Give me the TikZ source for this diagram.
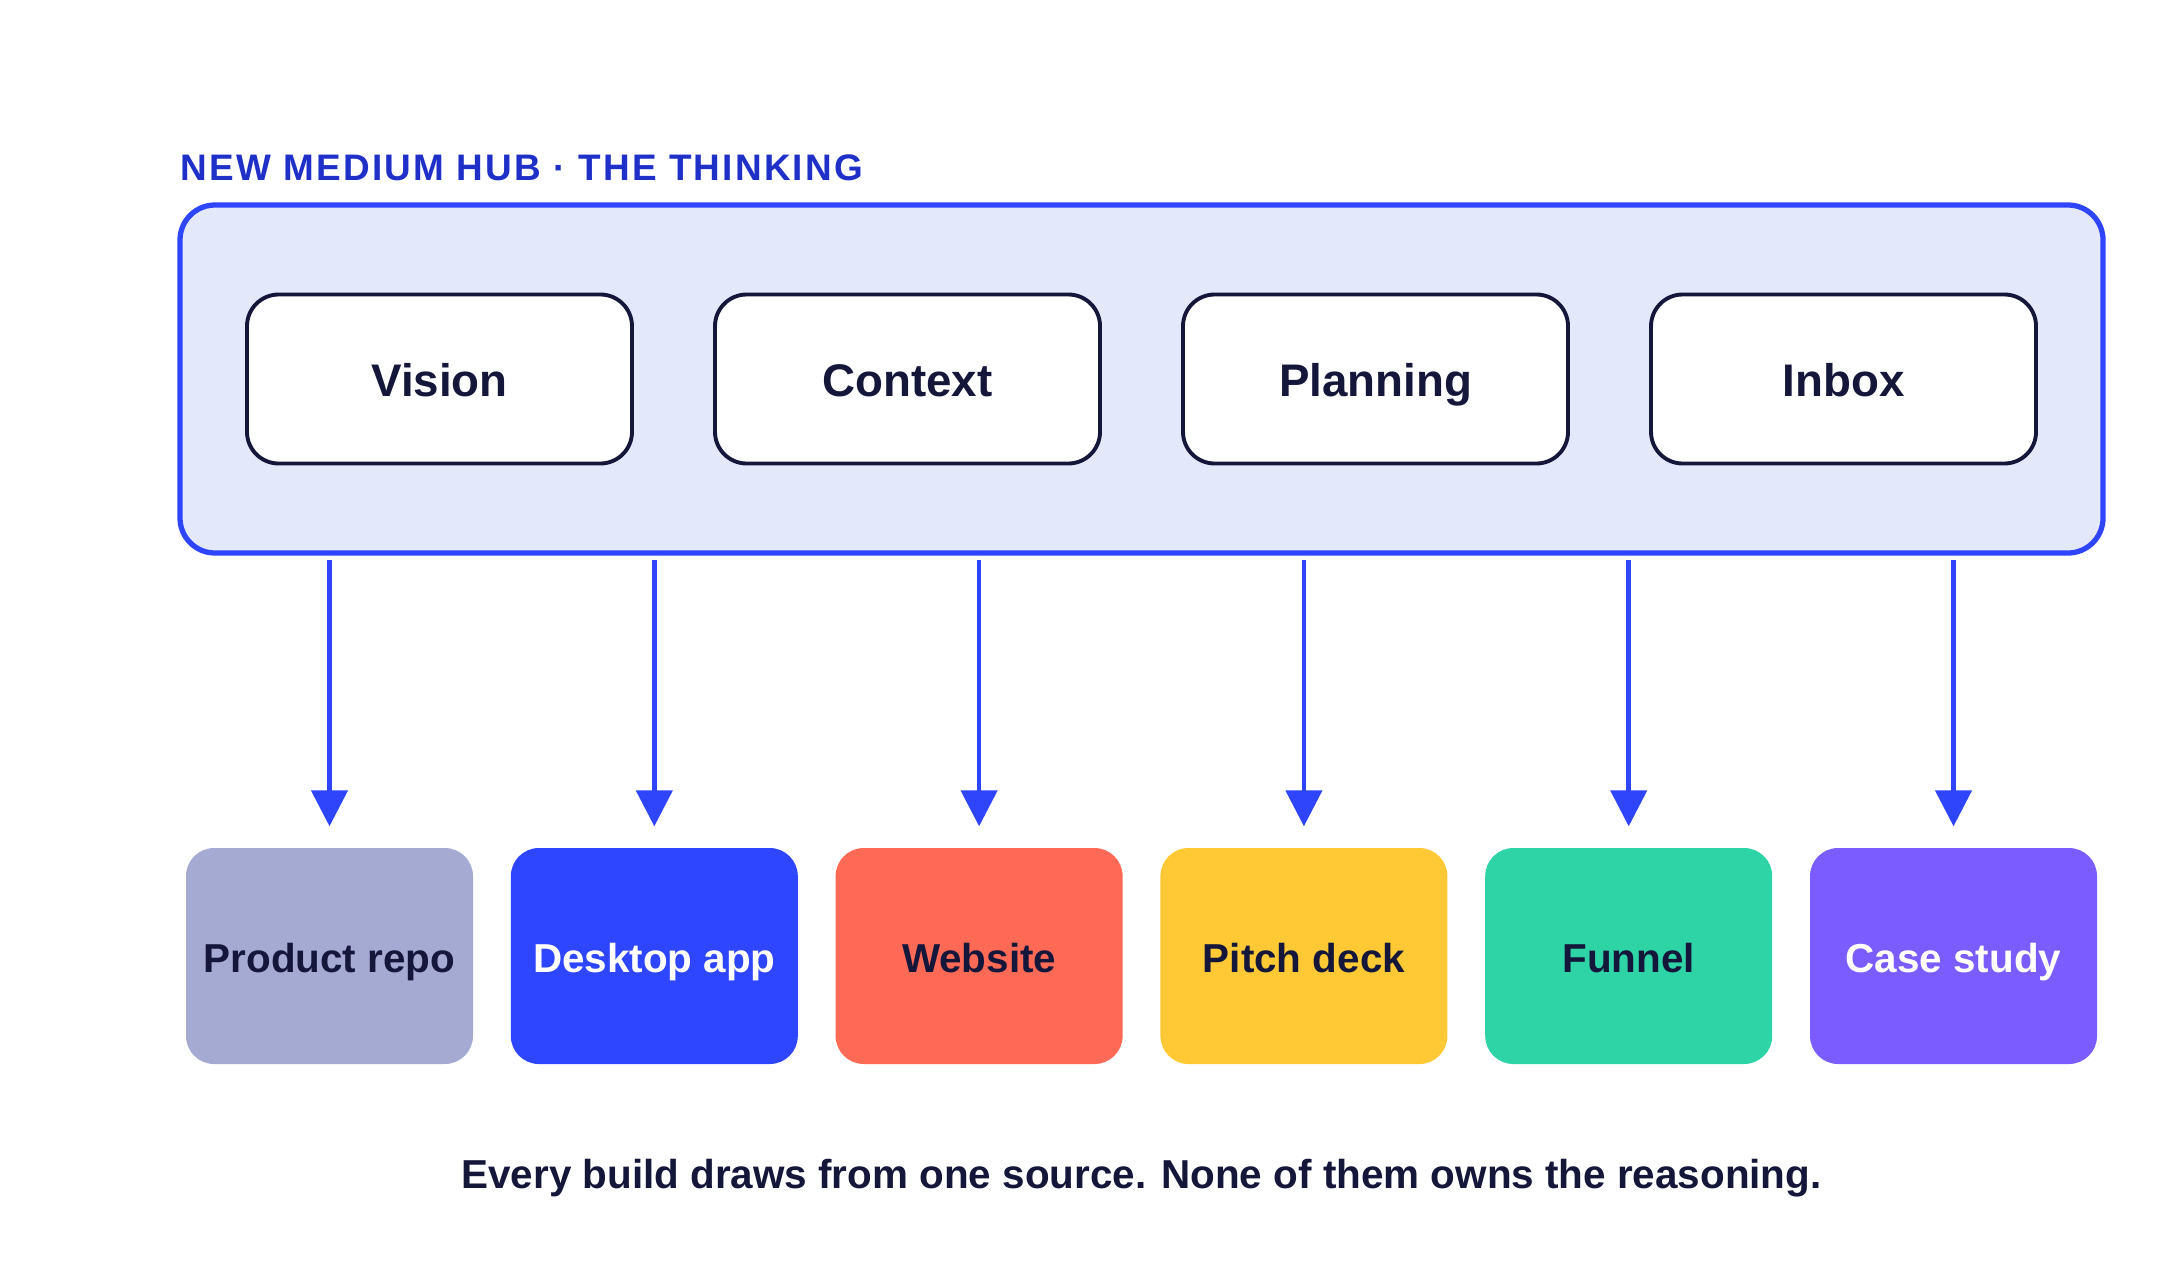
\documentclass[tikz,border=0pt]{standalone}
\usepackage{fontspec}
\setmainfont{Liberation Sans}
\usetikzlibrary{arrows.meta}

\definecolor{ink}{HTML}{14163A}
\definecolor{hubblue}{HTML}{2F45FB}
\definecolor{titleblue}{HTML}{1F30C8}
\definecolor{hubfill}{HTML}{E3E8FB}
\definecolor{repocol}{HTML}{A5AAD2}
\definecolor{appcol}{HTML}{2E46FF}
\definecolor{sitecol}{HTML}{FF6A57}
\definecolor{deckcol}{HTML}{FFC935}
\definecolor{funnelcol}{HTML}{2ED3A6}
\definecolor{casecol}{HTML}{7B5CFF}

\begin{document}
\begin{tikzpicture}[
        part/.style={draw=ink, line width=1.1pt, fill=white, rounded corners=9pt,
            minimum width=3.85cm, minimum height=1.69cm,
            text height=1em, text depth=0.03em,
            font=\fontsize{13}{15}\selectfont\bfseries, text=ink},
        build/.style={rounded corners=8pt, minimum width=2.87cm, minimum height=2.16cm,
            text height=1em, text depth=0.06em,
            font=\fontsize{11.5}{14}\selectfont\bfseries, text=ink},
        feed/.style={draw=hubblue, line width=1.3pt,
            -{Triangle[length=0.36cm, width=0.36cm]},
            shorten >=0.21cm, shorten <=0.04cm}
    ]
            \fill[white] (0, 0) rectangle (21.72, 12.63);
            \useasboundingbox (0, 0) rectangle (21.72, 12.63);

            % the hub and its four parts
            \node (title) at (1.80, 10.83) [anchor=base west, inner sep=0pt, text=titleblue,
                font=\fontsize{10.5}{12}\selectfont\bfseries\addfontfeature{LetterSpace=6}]
                {NEW MEDIUM HUB · THE THINKING};
            \node (hub) at (11.415, 8.84) [draw=hubblue, line width=1.5pt, fill=hubfill,
                rounded corners=0.35cm, minimum width=19.23cm, minimum height=3.48cm] {};

            \node (vision) at (4.395, 8.84) [part] {Vision};
            \node (context) at (9.075, 8.84) [part] {Context};
            \node (planning) at (13.755, 8.84) [part] {Planning};
            \node (inbox) at (18.435, 8.84) [part] {Inbox};

            % the builds
            \node (repo) at (3.295, 3.07) [build, fill=repocol] {Product repo};
            \node (app) at (6.543, 3.07) [build, fill=appcol, text=white] {Desktop app};
            \node (site) at (9.791, 3.07) [build, fill=sitecol] {Website};
            \node (deck) at (13.039, 3.07) [build, fill=deckcol] {Pitch deck};
            \node (funnel) at (16.287, 3.07) [build, fill=funnelcol] {Funnel};
            \node (case) at (19.535, 3.07) [build, fill=casecol, text=white] {Case study};

            \draw[feed] (hub.south -| repo.north) -- (repo.north);
            \draw[feed] (hub.south -| app.north) -- (app.north);
            \draw[feed] (hub.south -| site.north) -- (site.north);
            \draw[feed] (hub.south -| deck.north) -- (deck.north);
            \draw[feed] (hub.south -| funnel.north) -- (funnel.north);
            \draw[feed] (hub.south -| case.north) -- (case.north);

            \node (caption) at (11.415, 0.75) [anchor=base, text=ink,
                font=\fontsize{11.5}{14}\selectfont\bfseries]
                {Every build draws from one source. None of them owns the reasoning.};
        \end{tikzpicture}
\end{document}
